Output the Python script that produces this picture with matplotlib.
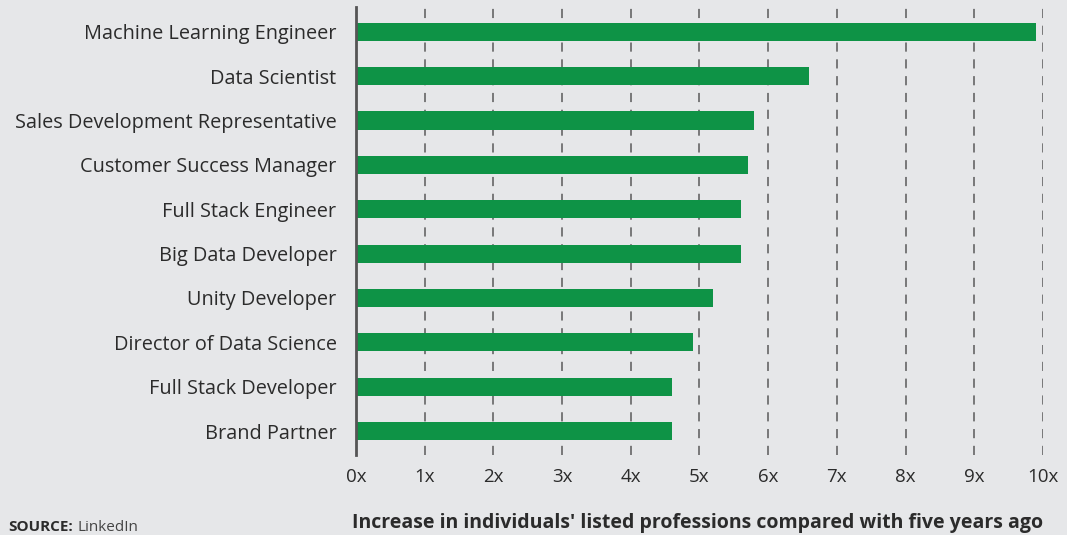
import matplotlib
matplotlib.use("Agg")
import matplotlib.pyplot as plt

professions = [
    "Machine Learning Engineer",
    "Data Scientist",
    "Sales Development Representative",
    "Customer Success Manager",
    "Full Stack Engineer",
    "Big Data Developer",
    "Unity Developer",
    "Director of Data Science",
    "Full Stack Developer",
    "Brand Partner",
]
growth = [9.9, 6.6, 5.8, 5.7, 5.6, 5.6, 5.2, 4.9, 4.6, 4.6]
ticks = list(range(0, 11))
tick_labels = [f"{t}x" for t in ticks]

BG = "#e6e7e9"
GREEN = "#0e9346"
TEXT = "#2b2b2b"

plt.rcParams["font.family"] = ["Open Sans", "DejaVu Sans"]

fig = plt.figure(figsize=(10.67, 5.35), dpi=100, facecolor=BG)
ax = fig.add_axes([0.3336, 0.1495, 0.6439, 0.8375], facecolor=BG)

ypos = list(range(len(professions)))
ax.barh(ypos, growth, height=0.41, color=GREEN, zorder=3)

ax.set_xlim(0, 10)
ax.set_ylim(len(professions) - 0.46, -0.56)

ax.set_yticks(ypos)
ax.set_yticklabels(professions, fontsize=14.3, color=TEXT)
ax.set_xticks(ticks)
ax.set_xticklabels(tick_labels, fontsize=13.5, color=TEXT)
ax.tick_params(axis="both", length=0, pad=9)
ax.tick_params(axis="y", pad=14)

for x in ticks[1:]:
    ax.axvline(x, color="#5a5a5a", lw=1.1, ls=(0, (6, 5)), zorder=1)

for side in ("top", "right", "bottom"):
    ax.spines[side].set_visible(False)
ax.spines["left"].set_color("#555555")
ax.spines["left"].set_linewidth(2)
ax.spines["left"].set_zorder(4)

fig.text(0.9775, 0.014, "Increase in individuals' listed professions compared with five years ago",
         ha="right", va="baseline", fontsize=14, fontweight="bold", color=TEXT)

# source line: bold label followed by regular text
src_label = fig.text(0.008, 0.008, "SOURCE:", ha="left", va="baseline", fontsize=11,
                     fontweight="bold", color=TEXT)
fig.canvas.draw()
bb = src_label.get_window_extent().transformed(fig.transFigure.inverted())
fig.text(bb.x1 + 0.004, 0.008, "LinkedIn", ha="left", va="baseline", fontsize=11, color="#444444")

fig.savefig("out.png", dpi=100, facecolor=BG)
